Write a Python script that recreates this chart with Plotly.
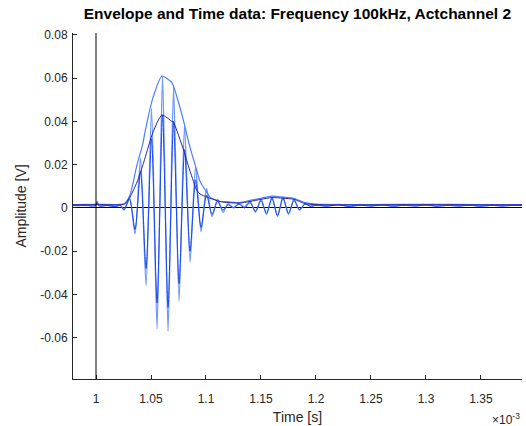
import plotly.graph_objects as go

# ---- data (time in seconds, amplitude in volts) ----
t_sig = [0.979e-3, 0.99e-3, 0.9995e-3, 1.001e-3, 1.003e-3, 1.01e-3, 1.018e-3, 1.022e-3, 1.0255e-3,
         1.0305e-3, 1.0355e-3, 1.0405e-3, 1.0455e-3, 1.0505e-3, 1.0555e-3, 1.0605e-3, 1.0655e-3,
         1.0705e-3, 1.0755e-3, 1.0805e-3, 1.0855e-3, 1.0905e-3, 1.0955e-3, 1.1005e-3, 1.1055e-3,
         1.1105e-3, 1.1155e-3, 1.12e-3, 1.125e-3, 1.13e-3, 1.135e-3, 1.14e-3, 1.145e-3, 1.15e-3,
         1.155e-3, 1.16e-3, 1.165e-3, 1.17e-3, 1.175e-3, 1.18e-3, 1.185e-3, 1.19e-3, 1.195e-3,
         1.2e-3, 1.21e-3, 1.22e-3, 1.23e-3, 1.24e-3, 1.25e-3, 1.26e-3, 1.27e-3, 1.28e-3, 1.29e-3,
         1.3e-3, 1.31e-3, 1.32e-3, 1.33e-3, 1.34e-3, 1.35e-3, 1.36e-3, 1.37e-3, 1.38e-3, 1.3873e-3]
sig1 = [0.0012, 0.0013, 0.0012, 0.003, 0.001, 0.0012, 0.0008, 0.0015, -0.001,
        0.005, -0.012, 0.023, -0.036, 0.046, -0.056, 0.061, -0.057,
        0.056, -0.043, 0.038, -0.025, 0.019, -0.011, 0.009, -0.004,
        0.004, -0.002, 0.002, 0.0, 0.002, 0.0005, 0.003, -0.002, 0.004,
        -0.003, 0.005, -0.004, 0.005, -0.003, 0.004, -0.001, 0.002, 0.0008,
        0.0015, 0.0009, 0.0016, 0.0008, 0.0014, 0.001, 0.0015, 0.0009, 0.0014, 0.001,
        0.0015, 0.0009, 0.0013, 0.001, 0.0014, 0.0009, 0.0013, 0.001, 0.0014, 0.0012]
sig2 = [0.0010, 0.0011, 0.0010, 0.0025, 0.0009, 0.0011, 0.0006, 0.0012, -0.0008,
        0.004, -0.010, 0.017, -0.028, 0.032, -0.044, 0.043, -0.046,
        0.040, -0.035, 0.027, -0.020, 0.013, -0.009, 0.006, -0.003,
        0.003, -0.001, 0.0015, 0.0002, 0.0018, 0.0, 0.0025, -0.0015, 0.0035,
        -0.0025, 0.0045, -0.0035, 0.0045, -0.0025, 0.0035, -0.0008, 0.0018, 0.0007,
        0.0012, 0.0008, 0.0014, 0.0007, 0.0012, 0.0009, 0.0013, 0.0008, 0.0012, 0.0009,
        0.0013, 0.0008, 0.0012, 0.0009, 0.0012, 0.0008, 0.0012, 0.0009, 0.0012, 0.0011]

t_env = [0.979e-3, 1.0e-3, 1.02e-3, 1.026e-3, 1.0309e-3, 1.0373e-3, 1.0427e-3, 1.0445e-3,
         1.0518e-3, 1.06e-3, 1.0691e-3, 1.07e-3, 1.0782e-3, 1.0855e-3, 1.0918e-3, 1.0945e-3,
         1.1009e-3, 1.1036e-3, 1.1127e-3, 1.12e-3, 1.13e-3, 1.14e-3, 1.15e-3, 1.16e-3,
         1.17e-3, 1.18e-3, 1.19e-3, 1.2e-3, 1.25e-3, 1.3e-3, 1.35e-3, 1.3873e-3]
env1 = [0.0016, 0.0017, 0.0016, 0.002, 0.006, 0.020, 0.030, 0.035,
        0.051, 0.061, 0.058, 0.057, 0.043, 0.028, 0.017, 0.0124,
        0.007, 0.005, 0.003, 0.0028, 0.0025, 0.0035, 0.0045, 0.0055,
        0.005, 0.0045, 0.0025, 0.0018, 0.0016, 0.0017, 0.0016, 0.0016]
env2 = [0.0014, 0.0015, 0.0014, 0.0018, 0.005, 0.012, 0.020, 0.023,
        0.035, 0.043, 0.040, 0.040, 0.029, 0.017, 0.008, 0.0065,
        0.005, 0.0045, 0.003, 0.0025, 0.0022, 0.003, 0.004, 0.0048,
        0.0045, 0.004, 0.002, 0.0015, 0.0014, 0.0015, 0.0014, 0.0014]

x_tickvals = [1.0e-3, 1.05e-3, 1.1e-3, 1.15e-3, 1.2e-3, 1.25e-3, 1.3e-3, 1.35e-3]
x_ticktext = ["1", "1.05", "1.1", "1.15", "1.2", "1.25", "1.3", "1.35"]
y_tickvals = [-0.06, -0.04, -0.02, 0, 0.02, 0.04, 0.06, 0.08]
y_ticktext = ["-0.06", "-0.04", "-0.02", "0", "0.02", "0.04", "0.06", "0.08"]

fig = go.Figure()
fig.add_trace(go.Scatter(x=t_sig, y=sig1, mode="lines",
                         line=dict(color="#7198ff", width=1.4, shape="spline", smoothing=0.7)))
fig.add_trace(go.Scatter(x=t_env, y=env1, mode="lines",
                         line=dict(color="#4d7dff", width=1.2, shape="spline", smoothing=0.6)))
fig.add_trace(go.Scatter(x=t_sig, y=sig2, mode="lines",
                         line=dict(color="#1a48f0", width=1, shape="spline", smoothing=0.7)))
fig.add_trace(go.Scatter(x=t_env, y=env2, mode="lines",
                         line=dict(color="#26259a", width=1, shape="spline", smoothing=0.6)))
fig.add_vline(x=1.0e-3, line=dict(color="black", width=1))

axis_col = "#262626"
fig.update_layout(
    width=526, height=426,
    margin=dict(l=73, r=4, t=33, b=45),
    plot_bgcolor="white", paper_bgcolor="white",
    showlegend=False,
    font=dict(family="Liberation Sans, Arial, sans-serif", color=axis_col, size=12),
    title=dict(text="<b>Envelope and Time data: Frequency 100kHz, Actchannel 2</b>",
               x=0.5654, xanchor="center", y=0.967, yanchor="middle",
               font=dict(size=15.5, color="black")),
    xaxis=dict(range=[0.97909e-3, 1.3873e-3], tickvals=x_tickvals, ticktext=x_ticktext,
               ticks="inside", ticklen=4, tickcolor=axis_col, showline=True, linecolor=axis_col,
               linewidth=1, showgrid=False, zeroline=False, ticklabelstandoff=9,
               title=dict(text="Time [s]", font=dict(size=14), standoff=6)),
    yaxis=dict(range=[-0.0791, 0.0809], tickvals=y_tickvals, ticktext=y_ticktext,
               ticks="inside", ticklen=4, tickcolor=axis_col, showline=True, linecolor=axis_col,
               linewidth=1, showgrid=False, zeroline=True, zerolinecolor="black", zerolinewidth=1,
               ticklabelstandoff=2,
               title=dict(text="Amplitude [V]", font=dict(size=14), standoff=10)),
)
fig.add_annotation(text="×10<sup>-3</sup>", xref="paper", yref="paper", x=1.0, y=-0.117,
                   xanchor="right", yanchor="middle", showarrow=False,
                   font=dict(size=12, color=axis_col))
fig.write_html("out.html")
